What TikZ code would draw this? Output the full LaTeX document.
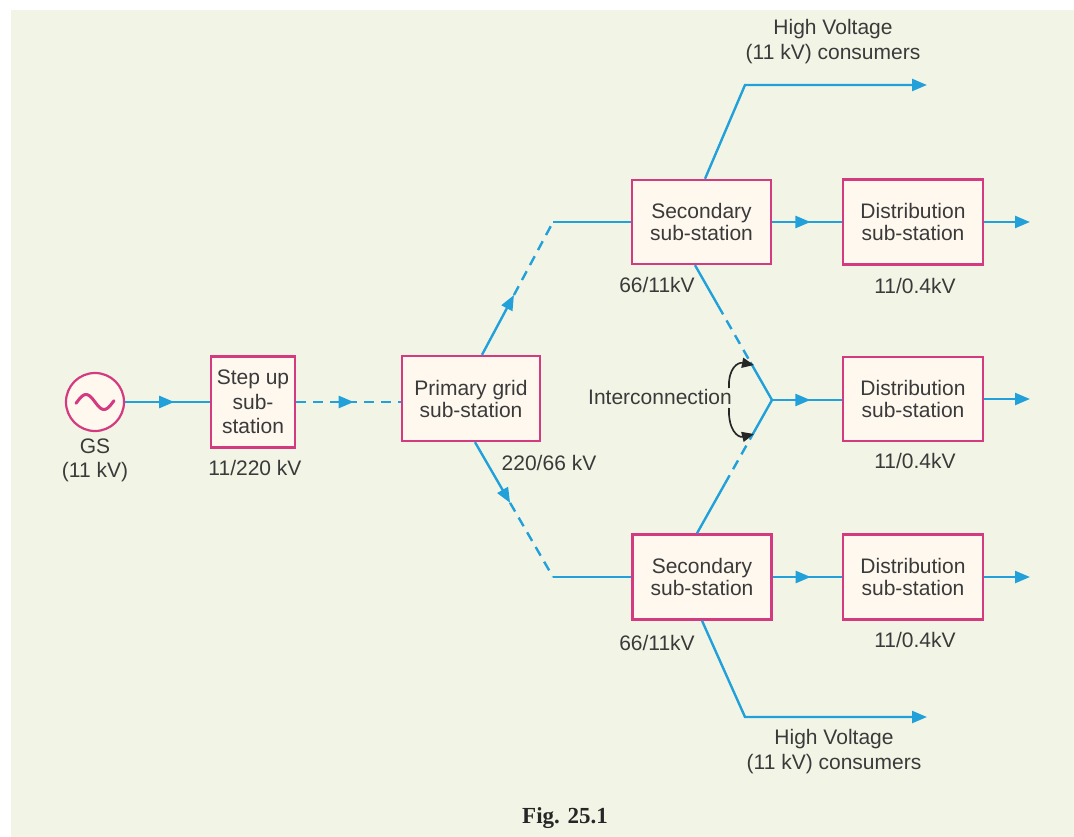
\documentclass[tikz,border=0pt]{standalone}
\usepackage{fontspec}
\setmainfont{Liberation Sans}
\newfontfamily\figfont{Liberation Serif}
\usetikzlibrary{arrows.meta,calc,decorations.markings}

\definecolor{bgcream}{HTML}{F2F5E6}
\definecolor{flowblue}{HTML}{22A0DA}
\definecolor{boxpink}{HTML}{D43A80}
\definecolor{boxfill}{HTML}{FEF8EE}
\definecolor{txtgray}{HTML}{3A3A3A}

\tikzset{
	subbox/.style={
		rectangle,
		draw=boxpink,
		fill=boxfill,
		line width=2.4pt,
		align=center,
		inner sep=0pt,
		text=txtgray,
		font=\fontsize{21}{22}\selectfont
	},
	rating/.style={text=txtgray, font=\fontsize{21}{25}\selectfont, inner sep=0pt, align=center},
	flow/.style={color=flowblue, line width=2.4pt},
	flowdash/.style={flow, dash pattern=on 10pt off 7pt},
	tipend/.style={-{Triangle[length=15pt,width=12pt]}},
	midarrow/.style={
		postaction={decorate},
		decoration={markings, mark=at position #1 with {\arrow{Triangle[length=15pt,width=12pt]}}}
	},
	midarrow/.default=0.55,
	bendarrow/.style={draw=black!85, line width=1.7pt, -{Triangle[length=12pt,width=10pt]}}
}

\begin{document}
\begin{tikzpicture}[x=1pt, y=-1pt]
			\useasboundingbox (0,0) rectangle (1074,837);
			\fill[white] (0,0) rectangle (1074,837);
			\fill[bgcream] (11,10) rectangle (1074,837);

			% generator
			\node[circle, draw=boxpink, fill=boxfill, line width=2.2pt, minimum size=58pt, inner sep=0pt] (gs) at (95,402) {};
			\draw[boxpink, line width=3pt, line cap=round, domain=-19:19, smooth, samples=40, variable=\x] plot ({95+\x},{402+7.5*sin(10*\x)});
			\node[rating, font=\fontsize{21}{24}\selectfont] (gslabel) at (95,460) {GS\\(11 kV)};

			% sub-stations
			\node[subbox, minimum width=84pt, minimum height=91pt, font=\fontsize{21}{24.5}\selectfont] (stepup) at (253,402) {Step up\\sub-\\station};
			\node[subbox, minimum width=138pt, minimum height=85pt] (primary) at (471,398.5) {Primary grid\\sub-station};
			\node[subbox, minimum width=139pt, minimum height=84pt] (secA) at (701.5,222) {Secondary\\sub-station};
			\node[subbox, minimum width=139pt, minimum height=85pt] (secB) at (702,577) {Secondary\\sub-station};
			\node[subbox, minimum width=140pt, minimum height=85pt] (distA) at (913,222) {Distribution\\sub-station};
			\node[subbox, minimum width=140pt, minimum height=84pt] (distM) at (913,399) {Distribution\\sub-station};
			\node[subbox, minimum width=140pt, minimum height=85pt] (distB) at (913,577) {Distribution\\sub-station};

			% ratings
			\node[rating] (rstep) at (255,468) {11/220 kV};
			\node[rating] (rprim) at (549,463) {220/66 kV};
			\node[rating] (rsecA) at (657,285) {66/11kV};
			\node[rating] (rsecB) at (657,643) {66/11kV};
			\node[rating] (rdistA) at (915,286) {11/0.4kV};
			\node[rating] (rdistM) at (915,461) {11/0.4kV};
			\node[rating] (rdistB) at (915,640) {11/0.4kV};
			\node[rating] (hvtop) at (833,42) {High Voltage\\(11 kV) consumers};
			\node[rating] (hvbot) at (834,752) {High Voltage\\(11 kV) consumers};
			\node[rating] (ic) at (660,397) {Interconnection};

			\coordinate (cA) at (553,222);
			\coordinate (cB) at (553,577);
			\coordinate (jn) at (772,400);
			\coordinate (hvA) at (745,85);
			\coordinate (hvB) at (745,717);
			\coordinate (hvAend) at (927,85);
			\coordinate (hvBend) at (927,717);
			\coordinate (outA) at (1030,222);
			\coordinate (outM) at (1030,399);
			\coordinate (outB) at (1030,577);
			\coordinate (pA) at ($(primary.north)+(11,0)$);
			\coordinate (pB) at ($(primary.south)+(4,0)$);
			\coordinate (sAn) at ($(secA.north)+(3.5,0)$);
			\coordinate (sAs) at ($(secA.south)+(-6.5,0)$);
			\coordinate (sBn) at ($(secB.north)+(-5,0)$);
			\coordinate (icA) at (754,365);
			\coordinate (icB) at (754,434);

			% feeders
			\draw[flow, midarrow=0.58] (gs.east) -- (stepup.west);
			\draw[flowdash, midarrow] (stepup.east) -- (stepup.east -| primary.west);

			\draw[flow, tipend] (pA) -- ($(pA)!0.45!(cA)$);
			\draw[flowdash] ($(pA)!0.45!(cA)$) -- (cA);
			\draw[flow] (cA) -- (secA.west);
			\draw[flow, tipend] (pB) -- ($(pB)!0.45!(cB)$);
			\draw[flowdash] ($(pB)!0.45!(cB)$) -- (cB);
			\draw[flow] (cB) -- (secB.west);

			\draw[flow, tipend] (sAn) -- (hvA) -- (hvAend);
			\draw[flow, tipend] (secB.south) -- (hvB) -- (hvBend);

			% interconnection
			\draw[flow] (sAs) -- ($(sAs)!0.3!(jn)$);
			\draw[flowdash] ($(sAs)!0.3!(jn)$) -- ($(sAs)!0.72!(jn)$);
			\draw[flow] ($(sAs)!0.72!(jn)$) -- (jn);
			\draw[flow] (sBn) -- ($(sBn)!0.37!(jn)$);
			\draw[flowdash] ($(sBn)!0.37!(jn)$) -- ($(sBn)!0.75!(jn)$);
			\draw[flow] ($(sBn)!0.75!(jn)$) -- (jn);
			\draw[flow, midarrow] (jn) -- (jn -| distM.west);

			\draw[bendarrow] ($(ic.east)+(-3,-9)$) .. controls (728,368) and (738,362) .. (icA);
			\draw[bendarrow] ($(ic.east)+(-3,11)$) .. controls (728,430) and (738,438) .. (icB);

			\draw[flow, midarrow] (secA) -- (distA);
			\draw[flow, midarrow] (secB) -- (distB);
			\draw[flow, tipend] (distA.east) -- (outA);
			\draw[flow, tipend] (distM.east) -- (outM);
			\draw[flow, tipend] (distB.east) -- (outB);

			\node[font=\figfont\bfseries\fontsize{23}{25}\selectfont, text=black!85, inner sep=0pt] (fig) at (565,818) {Fig. 25.1};
		\end{tikzpicture}
\end{document}
